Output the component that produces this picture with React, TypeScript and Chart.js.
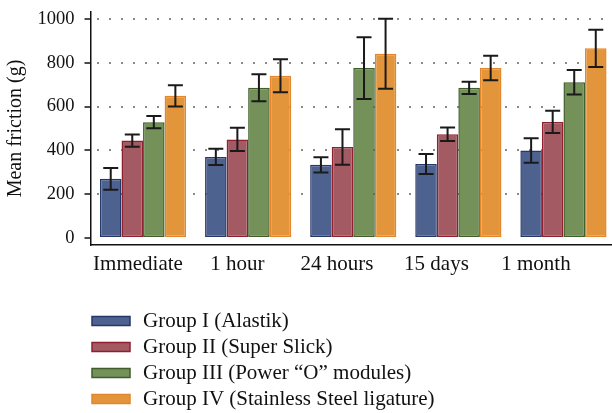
import { useEffect, useRef } from "react";
import { Chart, registerables } from "chart.js";

Chart.register(...registerables);

const CATEGORIES = ["Immediate", "1 hour", "24 hours", "15 days", "1 month"];
const SERIES_NAMES = [
  "Group I (Alastik)",
  "Group II (Super Slick)",
  "Group III (Power \u201CO\u201D modules)",
  "Group IV (Stainless Steel ligature)",
];
const GROUP1_MEAN = [270, 370, 334, 338, 400];
const GROUP2_MEAN = [445, 450, 416, 474, 530];
const GROUP3_MEAN = [529, 686, 776, 686, 711];
const GROUP4_MEAN = [649, 741, 841, 776, 866];
const GROUP1_ERR = [50, 37, 35, 46, 56];
const GROUP2_ERR = [28, 53, 81, 31, 51];
const GROUP3_ERR = [28, 62, 141, 28, 56];
const GROUP4_ERR = [48, 75, 160, 56, 85];
const Y_TICKS = [0, 200, 400, 600, 800, 1000];

const FILLS = ["#4E6290", "#A45A62", "#739159", "#E2953A"];
const BORDERS = ["#26376A", "#8E2030", "#3F5E2B", "#E4872C"];
const FONT = "'Liberation Serif', 'Times New Roman', serif";
const TEXT = "#111111";

const errorBarPlugin = {
  id: "errorBars",
  afterDatasetsDraw(chart: any) {
    const { ctx } = chart;
    const y = chart.scales.y;
    chart.data.datasets.forEach((ds: any, di: number) => {
      const meta = chart.getDatasetMeta(di);
      meta.data.forEach((bar: any, i: number) => {
        const v = ds.data[i];
        const e = ds.errors[i];
        const top = y.getPixelForValue(v + e);
        const bot = y.getPixelForValue(v - e);
        const cap = 7.5;
        ctx.save();
        ctx.strokeStyle = "#1a1a1a";
        ctx.lineWidth = 2;
        ctx.beginPath();
        ctx.moveTo(bar.x, top);
        ctx.lineTo(bar.x, bot);
        ctx.moveTo(bar.x - cap, top);
        ctx.lineTo(bar.x + cap, top);
        ctx.moveTo(bar.x - cap, bot);
        ctx.lineTo(bar.x + cap, bot);
        ctx.stroke();
        ctx.restore();
      });
    });
  },
};

const legendPlugin = {
  id: "stackedLegend",
  afterDraw(chart: any) {
    const { ctx } = chart;
    const x0 = 92;
    const y0 = 321;
    const step = 26;
    chart.data.datasets.forEach((ds: any, i: number) => {
      const cy = y0 + i * step;
      ctx.save();
      ctx.fillStyle = ds.backgroundColor;
      ctx.fillRect(x0, cy - 4.5, 38, 9);
      ctx.strokeStyle = ds.borderColor;
      ctx.lineWidth = 1.5;
      ctx.strokeRect(x0, cy - 4.5, 38, 9);
      ctx.fillStyle = TEXT;
      ctx.font = `21px ${FONT}`;
      ctx.textBaseline = "alphabetic";
      ctx.textAlign = "left";
      ctx.fillText(ds.label, 143, cy + 5.5);
      ctx.restore();
    });
  },
};

export default function App() {
  const ref = useRef<HTMLCanvasElement | null>(null);

  useEffect(() => {
    if (!ref.current) return;
    const means = [GROUP1_MEAN, GROUP2_MEAN, GROUP3_MEAN, GROUP4_MEAN];
    const errs = [GROUP1_ERR, GROUP2_ERR, GROUP3_ERR, GROUP4_ERR];
    const chart = new Chart(ref.current, {
      type: "bar",
      data: {
        labels: CATEGORIES,
        datasets: SERIES_NAMES.map((name, i) => ({
          label: name,
          data: means[i],
          errors: errs[i],
          backgroundColor: FILLS[i],
          borderColor: BORDERS[i],
          borderWidth: 1.5,
          borderSkipped: false,
          categoryPercentage: 0.82,
          barPercentage: 1.0,
        })) as any,
      },
      options: {
        animation: false,
        responsive: false,
        maintainAspectRatio: false,
        layout: { padding: { left: 0, right: 0, top: 12, bottom: 138 } },
        plugins: { legend: { display: false }, tooltip: { enabled: false } },
        scales: {
          x: {
            type: "category",
            display: false,
            offset: true,
            grid: { display: false },
          },
          xl: {
            type: "linear",
            position: "bottom",
            offset: false,
            min: -0.477,
            max: 4.804,
            afterBuildTicks: (s: any) => {
              s.ticks = CATEGORIES.map((_, i) => ({ value: i }));
            },
            afterFit: (s: any) => {
              s.height = 30;
              s.paddingLeft = 0;
              s.paddingRight = 0;
            },
            ticks: {
              callback: (v: any) => CATEGORIES[Math.round(v)],
              font: { family: FONT, size: 21 },
              color: TEXT,
              padding: 7,
              maxRotation: 0,
              autoSkip: false,
            },
            grid: { display: false, drawTicks: false, offset: false },
            border: { display: true, color: TEXT, width: 1.5 },
          },
          y: {
            type: "linear",
            min: -32,
            max: 1032,
            afterBuildTicks: (s: any) => {
              s.ticks = Y_TICKS.map((v) => ({ value: v }));
            },
            afterFit: (s: any) => {
              s.width = 90.5;
              s.paddingTop = 0;
              s.paddingBottom = 0;
            },
            ticks: {
              callback: (v: any) => String(v),
              font: { family: FONT, size: 18.5 },
              color: TEXT,
              padding: 10,
            },
            grid: {
              color: (c: any) => (c.tick && c.tick.value === 0 ? "rgba(0,0,0,0)" : "#8a8a8a"),
              lineWidth: 2,
              drawTicks: true,
              tickLength: 6,
              tickWidth: 1.5,
              tickColor: TEXT,
            },
            border: { display: true, color: TEXT, width: 1.5, dash: [2, 10], dashOffset: 6.5 },
            title: {
              display: true,
              text: "Mean friction (g)",
              font: { family: FONT, size: 20 },
              color: TEXT,
              padding: { top: 4, bottom: 0 },
            },
          },
        },
      } as any,
      plugins: [errorBarPlugin, legendPlugin],
    });
    return () => chart.destroy();
  }, []);

  return (
    <div
      style={{
        position: "absolute",
        left: 0,
        top: 0,
        width: 612,
        height: 413,
        overflow: "hidden",
        background: "#ffffff",
      }}
    >
      <canvas ref={ref} width={616} height={413} style={{ display: "block", width: 616, height: 413 }} />
    </div>
  );
}
